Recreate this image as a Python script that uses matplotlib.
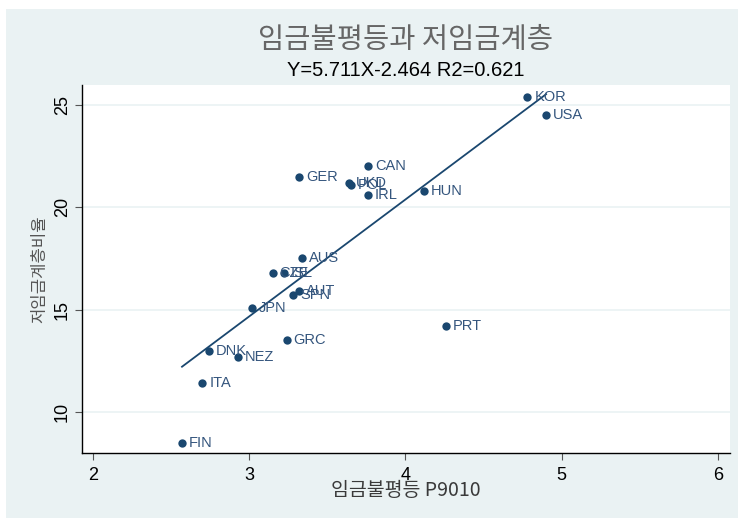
import numpy as np
import matplotlib.pyplot as plt
from matplotlib.patches import Rectangle

# --- data ---
COUNTRIES = ["KOR", "USA", "CAN", "GER", "UKD", "POL", "IRL", "HUN", "AUS",
             "CZE", "ISL", "AUT", "SPN", "JPN", "PRT", "GRC", "DNK", "NEZ",
             "ITA", "FIN"]
P9010 = [4.78, 4.90, 3.76, 3.32, 3.64, 3.65, 3.76, 4.12, 3.34,
         3.15, 3.22, 3.32, 3.28, 3.02, 4.26, 3.24, 2.74, 2.93,
         2.70, 2.57]
LOW_PAY = [25.4, 24.5, 22.0, 21.5, 21.2, 21.1, 20.6, 20.8, 17.5,
           16.8, 16.8, 15.9, 15.7, 15.1, 14.2, 13.5, 13.0, 12.7,
           11.4, 8.5]
SLOPE = 5.711
INTERCEPT = -2.464
R2 = 0.621

X_TICKS = [2, 3, 4, 5, 6]
Y_TICKS = [10, 15, 20, 25]

NAVY = "#1a476f"
GRAPH_BG = "#eaf2f3"
KR = ["Noto Sans CJK KR", "DejaVu Sans"]
LAT = ["Liberation Sans", "DejaVu Sans"]

W, H = 738, 518
fig = plt.figure(figsize=(W / 100, H / 100), dpi=100, facecolor="white")
fig.patches.append(Rectangle((6 / W, 0), 1 - 6 / W, 1 - 9 / H,
                             transform=fig.transFigure, facecolor=GRAPH_BG,
                             edgecolor="none", zorder=-5))

ax = fig.add_axes([82 / W, 65 / H, 648 / W, 368 / H])
ax.set_zorder(2)
ax.set_facecolor("white")

x = np.array(P9010)
y = np.array(LOW_PAY)
ax.scatter(x, y, s=36, color=NAVY, zorder=3, linewidths=0)
for name, xi, yi in zip(COUNTRIES, x, y):
    ax.annotate(name, (xi, yi), xytext=(5, 0), textcoords="offset points",
                va="center", ha="left", fontsize=10.5, color="#34557d",
                family=LAT, zorder=4)

xf = np.array([x.min(), x.max()])
ax.plot(xf, SLOPE * xf + INTERCEPT, color=NAVY, lw=1.3, zorder=2)

ax.set_xlim(1.93, 6.077)
ax.set_ylim(8.0, 25.97)
ax.set_xticks(X_TICKS)
ax.set_yticks(Y_TICKS)
ax.set_xticklabels([str(t) for t in X_TICKS], family=LAT, fontsize=13)
ax.set_yticklabels([str(t) for t in Y_TICKS], family=LAT, fontsize=13,
                   rotation=90, va="center")
ax.tick_params(direction="out", length=5, width=0.8, color="#555555", pad=3)
ax.tick_params(axis="x", pad=5)
ax.grid(axis="y", color="#eaf2f3", lw=1.2)
ax.set_axisbelow(True)
for side in ["top", "right"]:
    ax.spines[side].set_visible(False)
for side in ["left", "bottom"]:
    ax.spines[side].set_color("black")
    ax.spines[side].set_linewidth(1.0)

ax.set_xlabel("임금불평등 P9010", family=KR, fontsize=14, color="#3a3a3a",
              labelpad=-3)
ax.set_ylabel("저임금계층비율", family=KR, fontsize=12, color="#555555",
              labelpad=4)

cx = (82 + 730) / 2 / W
fig.text(cx, 1 - 40 / H, "임금불평등과 저임금계층", family=KR, fontsize=20.5,
         weight="light", color="#666666", ha="center", va="center")
fig.text(cx, 1 - 70 / H, f"Y={SLOPE}X{INTERCEPT} R2={R2}", family=LAT,
         fontsize=14.5, color="black", ha="center", va="center")

fig.savefig("out.png", dpi=100, facecolor=fig.get_facecolor())
